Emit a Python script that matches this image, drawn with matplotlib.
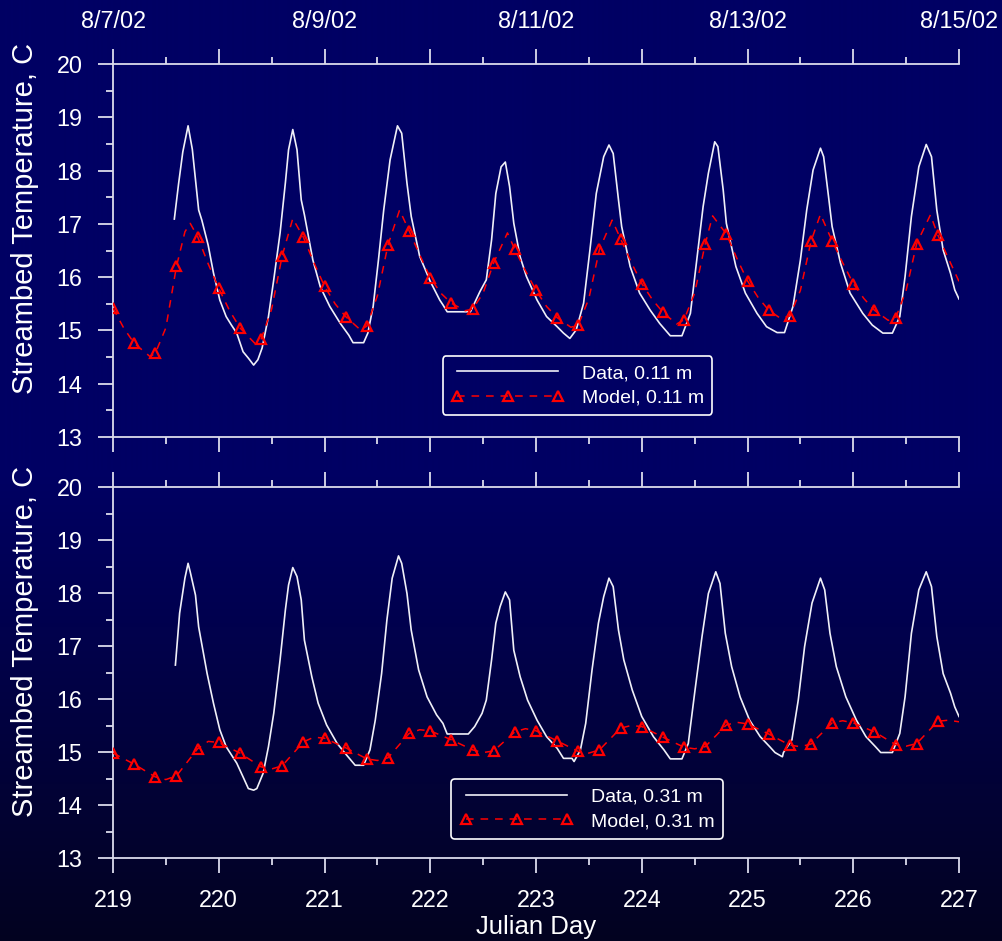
import numpy as np
import matplotlib
matplotlib.use("Agg")
import matplotlib.pyplot as plt
from matplotlib.ticker import MultipleLocator, FuncFormatter

plt.rcParams['font.family'] = ['Liberation Sans', 'DejaVu Sans']

# ---------------- data ----------------
date_ticks = [219, 221, 223, 225, 227]
date_labels = ['8/7/02', '8/9/02', '8/11/02', '8/13/02', '8/15/02']

top_data_t = [219.58, 219.62, 219.66, 219.71, 219.75, 219.81, 219.84, 219.90, 219.95, 220.01,
              220.07, 220.12, 220.17, 220.23, 220.28, 220.33, 220.37, 220.41, 220.47, 220.52,
              220.58, 220.63, 220.66, 220.70, 220.74, 220.78, 220.81, 220.89, 220.96, 221.05,
              221.15, 221.23, 221.27, 221.37, 221.41, 221.46, 221.51, 221.56, 221.62, 221.69,
              221.73, 221.78, 221.82, 221.90, 222.00, 222.09, 222.12, 222.16, 222.38, 222.47,
              222.53, 222.58, 222.62, 222.67, 222.71, 222.75, 222.79, 222.85, 222.91, 223.01,
              223.10, 223.20, 223.26, 223.32, 223.38, 223.45, 223.51, 223.57, 223.64, 223.69,
              223.73, 223.78, 223.81, 223.89, 223.98, 224.08, 224.17, 224.27, 224.38, 224.46,
              224.52, 224.58, 224.63, 224.69, 224.72, 224.77, 224.80, 224.89, 224.98, 225.09,
              225.18, 225.28, 225.35, 225.43, 225.50, 225.56, 225.62, 225.69, 225.72, 225.77,
              225.80, 225.88, 225.97, 226.09, 226.18, 226.28, 226.37, 226.44, 226.49, 226.55,
              226.62, 226.69, 226.74, 226.79, 226.85, 226.92, 226.96, 227.00]
top_data_v = [17.09, 17.75, 18.35, 18.84, 18.40, 17.26, 17.07, 16.60, 16.08, 15.57,
              15.26, 15.10, 14.95, 14.60, 14.48, 14.35, 14.45, 14.67, 15.26, 15.95,
              16.83, 17.77, 18.39, 18.77, 18.39, 17.45, 17.17, 16.32, 15.82, 15.45,
              15.13, 14.91, 14.77, 14.77, 14.95, 15.45, 16.32, 17.26, 18.20, 18.84,
              18.70, 17.76, 17.14, 16.39, 15.92, 15.57, 15.48, 15.35, 15.35, 15.73,
              15.95, 16.70, 17.57, 18.07, 18.16, 17.70, 17.01, 16.38, 16.01, 15.57,
              15.26, 15.07, 14.95, 14.85, 15.01, 15.51, 16.51, 17.57, 18.26, 18.48,
              18.32, 17.45, 16.95, 16.20, 15.70, 15.38, 15.13, 14.90, 14.90, 15.32,
              16.32, 17.32, 17.95, 18.54, 18.45, 17.64, 17.01, 16.20, 15.70, 15.32,
              15.07, 14.96, 14.96, 15.45, 16.32, 17.26, 18.01, 18.42, 18.26, 17.45,
              16.95, 16.26, 15.70, 15.32, 15.10, 14.95, 14.95, 15.26, 16.01, 17.14,
              18.07, 18.49, 18.26, 17.26, 16.51, 16.07, 15.76, 15.59]

top_model_t = [219.0, 219.1, 219.2, 219.35, 219.4, 219.5, 219.6, 219.68, 219.73, 219.8, 219.9,
               220.0, 220.1, 220.2, 220.34, 220.4, 220.5, 220.6, 220.7, 220.8, 220.9,
               221.0, 221.1, 221.2, 221.34, 221.4, 221.5, 221.6, 221.71, 221.8, 221.9,
               222.0, 222.1, 222.2, 222.33, 222.4, 222.5, 222.6, 222.73, 222.8, 222.9,
               223.0, 223.1, 223.2, 223.33, 223.4, 223.5, 223.6, 223.72, 223.8, 223.9,
               224.0, 224.1, 224.2, 224.33, 224.4, 224.5, 224.6, 224.67, 224.8, 224.9,
               225.0, 225.1, 225.2, 225.31, 225.4, 225.5, 225.6, 225.69, 225.8, 225.9,
               226.0, 226.1, 226.2, 226.33, 226.4, 226.5, 226.6, 226.73, 226.8, 226.9, 227.0]
top_model_v = [15.42, 15.05, 14.76, 14.51, 14.57, 15.05, 16.20, 16.85, 17.01, 16.76, 16.25,
               15.79, 15.38, 15.05, 14.76, 14.83, 15.40, 16.40, 17.10, 16.75, 16.27,
               15.83, 15.50, 15.26, 15.01, 15.08, 15.65, 16.60, 17.26, 16.87, 16.42,
               15.99, 15.70, 15.51, 15.37, 15.40, 15.70, 16.27, 16.83, 16.52, 16.12,
               15.75, 15.45, 15.24, 15.06, 15.10, 15.60, 16.52, 17.07, 16.72, 16.28,
               15.88, 15.58, 15.34, 15.12, 15.20, 15.70, 16.62, 17.15, 16.81, 16.35,
               15.93, 15.62, 15.38, 15.23, 15.27, 15.75, 16.67, 17.18, 16.68, 16.27,
               15.88, 15.60, 15.38, 15.19, 15.23, 15.75, 16.63, 17.17, 16.79, 16.35, 15.92]

top_mark_t = [219.0, 219.2, 219.4, 219.6, 219.8, 220.0, 220.2, 220.4, 220.6, 220.8,
              221.0, 221.2, 221.4, 221.6, 221.8, 222.0, 222.2, 222.4, 222.6, 222.8,
              223.0, 223.2, 223.4, 223.6, 223.8, 224.0, 224.2, 224.4, 224.6, 224.8,
              225.0, 225.2, 225.4, 225.6, 225.8, 226.0, 226.2, 226.4, 226.6, 226.8]
top_mark_v = [15.42, 14.76, 14.57, 16.20, 16.76, 15.79, 15.05, 14.83, 16.40, 16.75,
              15.83, 15.26, 15.08, 16.60, 16.87, 15.99, 15.51, 15.40, 16.27, 16.52,
              15.75, 15.24, 15.10, 16.52, 16.72, 15.88, 15.34, 15.20, 16.62, 16.81,
              15.93, 15.38, 15.27, 16.67, 16.68, 15.88, 15.38, 15.23, 16.63, 16.79]

bot_data_t = [219.59, 219.63, 219.68, 219.71, 219.73, 219.78, 219.81, 219.89, 219.95, 220.01,
              220.07, 220.17, 220.23, 220.28, 220.33, 220.36, 220.42, 220.47, 220.52, 220.58,
              220.63, 220.66, 220.70, 220.74, 220.78, 220.81, 220.88, 220.94, 221.02, 221.12,
              221.21, 221.29, 221.37, 221.43, 221.48, 221.54, 221.59, 221.64, 221.70, 221.73,
              221.78, 221.82, 221.89, 221.97, 222.06, 222.12, 222.16, 222.36, 222.42, 222.49,
              222.53, 222.58, 222.62, 222.66, 222.71, 222.75, 222.79, 222.85, 222.92, 223.01,
              223.10, 223.20, 223.26, 223.34, 223.36, 223.42, 223.47, 223.53, 223.59, 223.64,
              223.69, 223.73, 223.78, 223.83, 223.91, 224.00, 224.11, 224.21, 224.27, 224.38,
              224.44, 224.50, 224.57, 224.63, 224.70, 224.74, 224.79, 224.85, 224.93, 225.02,
              225.12, 225.21, 225.26, 225.33, 225.34, 225.42, 225.48, 225.54, 225.61, 225.69,
              225.73, 225.78, 225.84, 225.93, 226.03, 226.12, 226.21, 226.26, 226.37, 226.44,
              226.49, 226.55, 226.62, 226.69, 226.74, 226.79, 226.85, 226.92, 226.96, 227.00]
bot_data_v = [16.64, 17.62, 18.28, 18.56, 18.40, 17.96, 17.36, 16.48, 15.92, 15.42,
              15.10, 14.79, 14.53, 14.31, 14.28, 14.31, 14.60, 15.10, 15.73, 16.74,
              17.68, 18.15, 18.48, 18.31, 17.87, 17.11, 16.42, 15.92, 15.51, 15.16,
              14.94, 14.75, 14.75, 15.04, 15.60, 16.48, 17.49, 18.28, 18.70, 18.56,
              17.99, 17.30, 16.55, 16.04, 15.70, 15.54, 15.34, 15.34, 15.48, 15.73,
              15.98, 16.74, 17.43, 17.74, 18.02, 17.87, 16.92, 16.42, 15.98, 15.60,
              15.29, 15.07, 14.88, 14.88, 14.82, 15.04, 15.54, 16.55, 17.43, 17.93,
              18.28, 18.12, 17.30, 16.74, 16.17, 15.67, 15.29, 15.04, 14.87, 14.87,
              15.16, 16.11, 17.18, 17.99, 18.40, 18.18, 17.24, 16.61, 16.04, 15.60,
              15.29, 15.10, 14.99, 14.91, 14.99, 15.23, 15.98, 16.99, 17.81, 18.28,
              18.06, 17.24, 16.61, 16.04, 15.60, 15.29, 15.10, 14.99, 14.99, 15.35,
              16.04, 17.24, 18.06, 18.40, 18.12, 17.18, 16.48, 16.11, 15.85, 15.67]

bot_model_t = [219.0, 219.2, 219.4, 219.5, 219.6, 219.8, 219.9, 220.0, 220.2, 220.4, 220.5,
               220.6, 220.8, 220.9, 221.0, 221.2, 221.4, 221.5, 221.6, 221.8, 221.9,
               222.0, 222.2, 222.4, 222.5, 222.6, 222.8, 222.9, 223.0, 223.2, 223.4,
               223.5, 223.6, 223.8, 223.9, 224.0, 224.2, 224.4, 224.5, 224.6, 224.8,
               224.9, 225.0, 225.2, 225.4, 225.5, 225.6, 225.8, 225.9, 226.0, 226.2,
               226.4, 226.5, 226.6, 226.8, 226.9, 227.0]
bot_model_v = [14.98, 14.77, 14.53, 14.48, 14.55, 15.06, 15.20, 15.18, 14.98, 14.72, 14.68,
               14.74, 15.19, 15.28, 15.26, 15.08, 14.87, 14.84, 14.89, 15.35, 15.42,
               15.40, 15.23, 15.04, 14.99, 15.02, 15.38, 15.44, 15.40, 15.21, 15.01,
               14.98, 15.04, 15.45, 15.50, 15.48, 15.28, 15.09, 15.06, 15.10, 15.51,
               15.56, 15.53, 15.34, 15.13, 15.10, 15.15, 15.55, 15.59, 15.55, 15.38,
               15.14, 15.11, 15.16, 15.58, 15.60, 15.57]

bot_mark_t = top_mark_t
bot_mark_v = [14.98, 14.77, 14.53, 14.55, 15.06, 15.18, 14.98, 14.72, 14.74, 15.19,
              15.26, 15.08, 14.87, 14.89, 15.35, 15.40, 15.23, 15.04, 15.02, 15.38,
              15.40, 15.21, 15.01, 15.04, 15.45, 15.48, 15.28, 15.09, 15.10, 15.51,
              15.53, 15.34, 15.13, 15.15, 15.55, 15.55, 15.38, 15.14, 15.16, 15.58]

labels_top = ['Data, 0.11 m', 'Model, 0.11 m']
labels_bot = ['Data, 0.31 m', 'Model, 0.31 m']
ylabel = 'Streambed Temperature, C'
xlabel = 'Julian Day'

# ---------------- figure ----------------
W, H = 1002, 941
fig = plt.figure(figsize=(W / 100, H / 100), dpi=100)

# background gradient
bg = fig.add_axes([0, 0, 1, 1], zorder=-10)
rows = np.arange(H)
frac = np.clip((rows - 470) / (H - 470), 0, 1)[:, None]
c_top = np.array([0, 0, 100]) / 255.0
c_bot = np.array([3, 3, 32]) / 255.0
img = c_top + (c_bot - c_top) * frac
img = np.repeat(img[:, None, :], 2, axis=1)
bg.imshow(img, aspect='auto', extent=[0, 1, 0, 1], origin='upper')
bg.axis('off')

AXC = '#dcdcec'
TXT = 'white'
FS = 16.8


def style_axes(ax, top_labels, bottom_labels):
    ax.set_facecolor('none')
    ax.set_xlim(219, 227)
    ax.set_ylim(13, 20)
    for s in ['left', 'top', 'bottom']:
        ax.spines[s].set_color(AXC)
        ax.spines[s].set_linewidth(1.3)
    ax.spines['right'].set_visible(False)
    ax.xaxis.set_major_locator(MultipleLocator(1))
    ax.xaxis.set_minor_locator(MultipleLocator(0.5))
    ax.yaxis.set_major_locator(MultipleLocator(1))
    ax.yaxis.set_minor_locator(MultipleLocator(0.5))
    ax.tick_params(axis='both', which='major', direction='out', length=10.5, width=1.3,
                   color=AXC, labelcolor=TXT, labelsize=FS)
    ax.tick_params(axis='both', which='minor', direction='out', length=5, width=1.3, color=AXC)
    ax.tick_params(axis='x', which='both', top=True, bottom=True,
                   labeltop=top_labels, labelbottom=bottom_labels)
    ax.tick_params(axis='y', which='both', left=True, right=False)
    ax.tick_params(axis='y', which='major', pad=11.5)
    ax.tick_params(axis='x', which='major', pad=12)
    ax.set_ylabel(ylabel, color=TXT, fontsize=21)
    ax.yaxis.set_label_coords(-0.087, 0.585)


date_map = dict(zip(date_ticks, date_labels))

ax1 = fig.add_axes([113 / W, 1 - 437 / H, 846 / W, 373 / H])
ax2 = fig.add_axes([113 / W, 1 - 858 / H, 846 / W, 371 / H])

style_axes(ax1, True, False)
style_axes(ax2, False, True)

ax1.xaxis.set_major_formatter(FuncFormatter(lambda v, p: date_map.get(int(round(v)), '')))
ax2.xaxis.set_major_formatter(FuncFormatter(lambda v, p: '%d' % round(v)))
ax2.set_xlabel(xlabel, color=TXT, fontsize=18.5, labelpad=2)

DATA_C = '#f0f0f8'
RED = '#ff0000'


def draw(ax, dt, dv, mt, mv, kt, kv, labels, anchor):
    l1, = ax.plot(dt, dv, color=DATA_C, lw=1.2, zorder=3)
    l2, = ax.plot(mt, mv, color=RED, lw=1.1, dashes=(5, 4.5), zorder=4)
    l3, = ax.plot(kt, kv, linestyle='none', marker='^', markersize=7.5, markerfacecolor='none',
                  markeredgecolor=RED, markeredgewidth=1.6, zorder=5)
    leg = ax.legend([l1, (l2, l3)], labels, loc='center', bbox_to_anchor=anchor,
                    frameon=True, fancybox=True, framealpha=1, facecolor='none',
                    edgecolor='white', fontsize=14, labelcolor='white', numpoints=3,
                    handlelength=5.8, handletextpad=0.9, labelspacing=0.35,
                    borderpad=0.45, borderaxespad=0)
    leg.get_frame().set_linewidth(1.2)


draw(ax1, top_data_t, top_data_v, top_model_t, top_model_v, top_mark_t, top_mark_v,
     labels_top, (0.549, 0.138))
draw(ax2, bot_data_t, bot_data_v, bot_model_t, bot_model_v, bot_mark_t, bot_mark_v,
     labels_bot, (0.5605, 0.132))

fig.savefig('out.png', dpi=100, facecolor=fig.get_facecolor())
